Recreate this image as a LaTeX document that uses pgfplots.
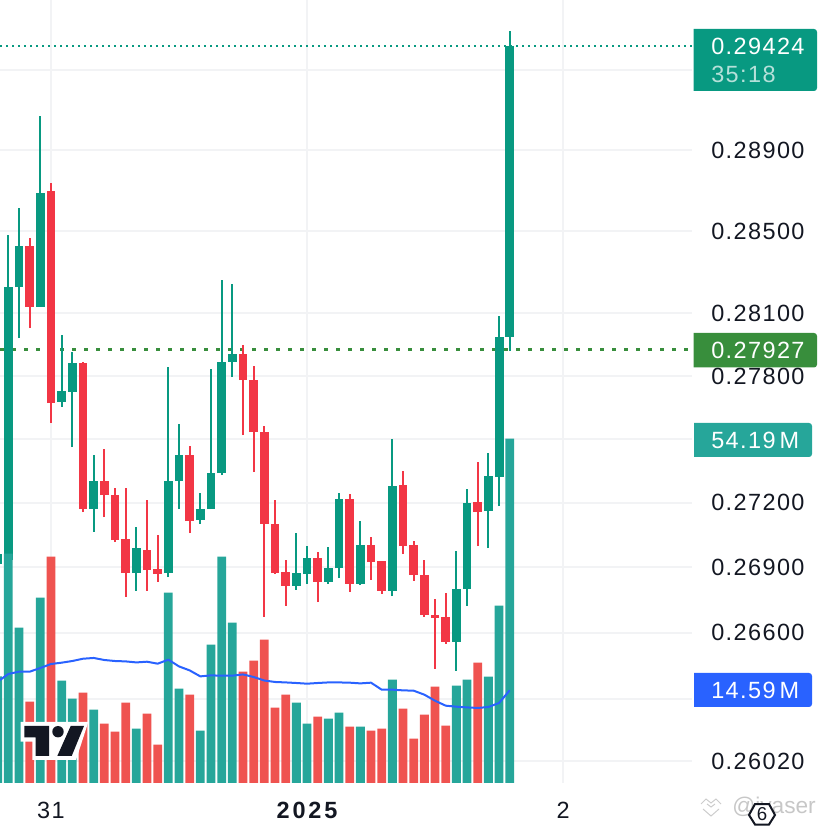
\documentclass[border=0pt]{standalone}
\usepackage{fontspec}
\setmainfont[LetterSpace=6]{Liberation Sans}
\newfontfamily\wmfont{Liberation Sans}
\newfontfamily\yearfont[LetterSpace=12]{Liberation Sans}
\usepackage{pgfplots}
\usepackage{pgfplotstable}
\pgfplotsset{compat=1.18}
\definecolor{candleup}{HTML}{089981}
\definecolor{candledn}{HTML}{F23645}
\definecolor{volup}{HTML}{26A69A}
\definecolor{voldn}{HTML}{EF5350}
\definecolor{gridc}{HTML}{F2F3F5}
\definecolor{textc}{HTML}{131722}
\definecolor{ma}{HTML}{2962FF}
\definecolor{lastg}{HTML}{388E3C}
\pgfplotstableread{
i o h l c v
-1 .26916 .26962 .26916 .26962 16.78
0 .26934 .28480 .26934 .28227 36.09
1 .28227 .28614 .27982 .28427 24.44
3 .28134 .29069 .28134 .28688 29.17
5 .27676 .27996 .27652 .27728 16.10
6 .27723 .27915 .27462 .27862 13.27
8 .27171 .27425 .27065 .27303 11.54
12 .26874 .27088 .26792 .26990 8.55
15 .26874 .27843 .26856 .27303 29.95
16 .27303 .27571 .27171 .27425 14.84
18 .27120 .27246 .27102 .27171 8.23
19 .27171 .27834 .27171 .27340 21.77
20 .27340 .28261 .27331 .27867 35.62
21 .27867 .28246 .27794 .27906 25.23
27 .26815 .27060 .26796 .26874 12.64
28 .26870 .26999 .26824 .26944 9.33
30 .26833 .26995 .26824 .26897 10.12
31 .26897 .27246 .26851 .27218 11.07
33 .26824 .27115 .26819 .27004 8.86
36 .26792 .27500 .26769 .27279 16.26
42 .26558 .26976 .26426 .26801 15.32
43 .26801 .27265 .26723 .27199 16.26
45 .27162 .27434 .26990 .27326 16.73
46 .27321 .28087 .27185 .27987 27.91
47 .27987 .29497 .27920 .29424 54.19
}\uptable
\pgfplotstableread{
i o h l c v
2 .28427 .28466 .28030 .28134 12.80
4 .28698 .28737 .27576 .27671 35.62
7 .27862 .27867 .27157 .27171 14.21
9 .27303 .27453 .27134 .27236 9.33
10 .27236 .27270 .27018 .27027 8.07
11 .27032 .27270 .26764 .26874 12.64
13 .26981 .27213 .26792 .26888 10.91
14 .26893 .27051 .26833 .26870 6.03
17 .27425 .27467 .27060 .27115 13.90
22 .27906 .27949 .27519 .27780 17.52
23 .27780 .27848 .27345 .27533 19.25
24 .27533 .27562 .26673 .27102 22.56
25 .27102 .27213 .26870 .26874 11.85
26 .26879 .26934 .26723 .26815 13.90
29 .26944 .26972 .26741 .26833 10.44
32 .27218 .27241 .26787 .26824 8.86
34 .27004 .27041 .26842 .26925 8.23
35 .26930 .26930 .26778 .26792 8.55
37 .27284 .27350 .26962 .26999 11.69
38 .27004 .27023 .26838 .26865 6.97
39 .26865 .26934 .26673 .26682 10.75
40 .26682 .26755 .26435 .26668 15.16
41 .26673 .26783 .26549 .26558 9.02
44 .27204 .27392 .26999 .27157 18.94
}\dntable
\pgfplotstableread{
i ma
-1 15.94
0 17.16
1 17.52
2 17.52
3 18.10
4 18.73
5 18.94
6 19.20
7 19.56
8 19.68
9 19.36
10 19.20
11 19.14
12 18.98
13 19.09
14 18.78
15 19.41
16 18.35
17 17.72
18 16.78
19 16.94
20 16.89
21 16.89
22 17.09
23 16.68
24 16.13
25 15.90
26 15.83
27 15.74
28 15.63
29 15.74
30 15.83
31 15.83
32 15.79
33 15.68
34 15.79
35 14.69
36 14.69
37 14.58
38 14.53
39 13.90
40 12.95
41 12.17
42 12.01
43 11.90
44 11.81
45 11.96
46 12.59
47 14.59
}\matable
\newcommand{\lblfont}{\fontsize{17.6pt}{20pt}\selectfont}
\begin{document}
\begin{tikzpicture}
\useasboundingbox (0pt,-33.75pt) rectangle (621pt,587.25pt);
% price pane
\begin{axis}[
  at={(0,0)},anchor=south west,
  scale only axis,width=519pt,height=587.25pt,
  ymode=log,
  xmin=-0.781,xmax=64.09,ymin=.25922,ymax=.29655,
  axis line style={draw=none},
  major tick length=0pt,minor tick num=0,
  xtick={4,28,52},xticklabels={31,{\yearfont\bfseries 2025},2},
  ytick={.2602,.263,.266,.269,.272,.275,.278,.281,.285,.289,.293},
  yticklabels={0.26020,0.26300,0.26600,0.26900,0.27200,0.27500,0.27800,0.28100,0.28500,0.28900,0.29300},
  yticklabel pos=right,
  y tick label style={anchor=west,inner sep=0pt,xshift=14.25pt},
  x tick label style={inner sep=0pt,yshift=-14pt},
  tick label style={font=\lblfont,text=textc},
  grid=major,
  major grid style={draw=gridc,line width=1.5pt},
  clip=true,
]
\addplot[candleup,line width=1.3pt,dash pattern=on 1.5pt off 3pt] coordinates {(-0.781,.29424)(64.09,.29424)};
\addplot[lastg,line width=2.7pt,dash pattern=on 3pt off 6pt] coordinates {(-0.781,.27927)(63.7,.27927)};
% wicks
\addplot[draw=none,mark=none,error bars/.cd,y dir=plus,y explicit,error mark=none,error bar style={draw=candleup,line width=1.5pt}]
  table[x=i,y=l,y error plus expr=\thisrow{h}-\thisrow{l}] {\uptable};
\addplot[draw=none,mark=none,error bars/.cd,y dir=plus,y explicit,error mark=none,error bar style={draw=candledn,line width=1.5pt}]
  table[x=i,y=l,y error plus expr=\thisrow{h}-\thisrow{l}] {\dntable};
% bodies
\addplot[draw=none,mark=none,error bars/.cd,y dir=plus,y explicit,error mark=none,error bar style={draw=candleup,line width=6.7pt}]
  table[x=i,y=o,y error plus expr=\thisrow{c}-\thisrow{o}] {\uptable};
\addplot[draw=none,mark=none,error bars/.cd,y dir=plus,y explicit,error mark=none,error bar style={draw=candledn,line width=6.7pt}]
  table[x=i,y=c,y error plus expr=\thisrow{o}-\thisrow{c}] {\dntable};
\end{axis}
% volume pane
\begin{axis}[
  at={(0,0)},anchor=south west,
  scale only axis,width=519pt,height=587.25pt,
  xmin=-0.781,xmax=64.09,ymin=0,ymax=123.24,
  hide axis,clip=true,
]
\addplot[ybar,bar width=6.6pt,bar shift=0pt,fill=volup,draw=none] table[x=i,y=v] {\uptable};
\addplot[ybar,bar width=6.6pt,bar shift=0pt,fill=voldn,draw=none] table[x=i,y=v] {\dntable};
\addplot[ma,line width=1.5pt,line join=round,mark=none] table[x=i,y=ma] {\matable};
\end{axis}
\begin{scope}[x=0.75pt,y=-0.75pt,shift={(0pt,587.25pt)}]
% price labels
\node[anchor=west,inner sep=0pt,text=textc] at (711,-9.5) {\lblfont 0.29700};
\fill[candleup] (693.5,29) [rounded corners=2.2pt] -- (817,29) -- (817,91) [sharp corners] -- (693.5,91) -- cycle;
\node[anchor=west,inner sep=0pt,text=white] at (711,46) {\lblfont 0.29424};
\node[anchor=west,inner sep=0pt,text=white,opacity=0.7] at (711,74) {\lblfont 35:18};
\fill[lastg] (693.5,333) [rounded corners=2.2pt] -- (817,333) -- (817,367.5) [sharp corners] -- (693.5,367.5) -- cycle;
\node[anchor=west,inner sep=0pt,text=white] at (711,350) {\lblfont 0.27927};
\fill[volup] (694,423) [rounded corners=2.2pt] -- (812,423) -- (812,457) [sharp corners] -- (694,457) -- cycle;
\node[anchor=west,inner sep=0pt,text=white] at (711,440) {\lblfont 54.19\,M};
\fill[ma] (694,673) [rounded corners=2.2pt] -- (812,673) -- (812,707) [sharp corners] -- (694,707) -- cycle;
\node[anchor=west,inner sep=0pt,text=white] at (711,690) {\lblfont 14.59\,M};
% TradingView mark
\fill[white] (20.7,722) -- (88.3,722) -- (76,760) -- (32.3,760) -- (32.3,741.7) -- (20.7,741.7) -- cycle;
\fill[textc] (24.3,726) -- (49,726) -- (49,756) -- (35.7,756) -- (35.7,737.3) -- (24.3,737.3) -- cycle;
\fill[textc] (58,731.7) circle (5.7);
\fill[textc] (70.7,726) -- (84,726) -- (71.7,756) -- (57.3,756) -- cycle;
% watermark
\begin{scope}[draw=black!20,line width=0.75pt]
\draw (701,804) -- (706,799) -- (711,803) -- (716,799) -- (721,804);
\draw (707,804) -- (711,807) -- (715,804);
\draw (703,809) -- (711,816) -- (719,809);
\end{scope}
\node[anchor=west,inner sep=0pt,text=black!22] at (732,808) {\fontsize{17pt}{20pt}\selectfont\wmfont @jyaser};
\draw[fill=white,draw=textc,line width=1.5pt] (749,815) -- (755,804) -- (769,804) -- (775,815) -- (769,824.5) -- (755,824.5) -- cycle;
\node[inner sep=0pt,text=textc] at (762,814) {\fontsize{14pt}{14pt}\selectfont\wmfont 6};
\end{scope}
\end{tikzpicture}
\end{document}
